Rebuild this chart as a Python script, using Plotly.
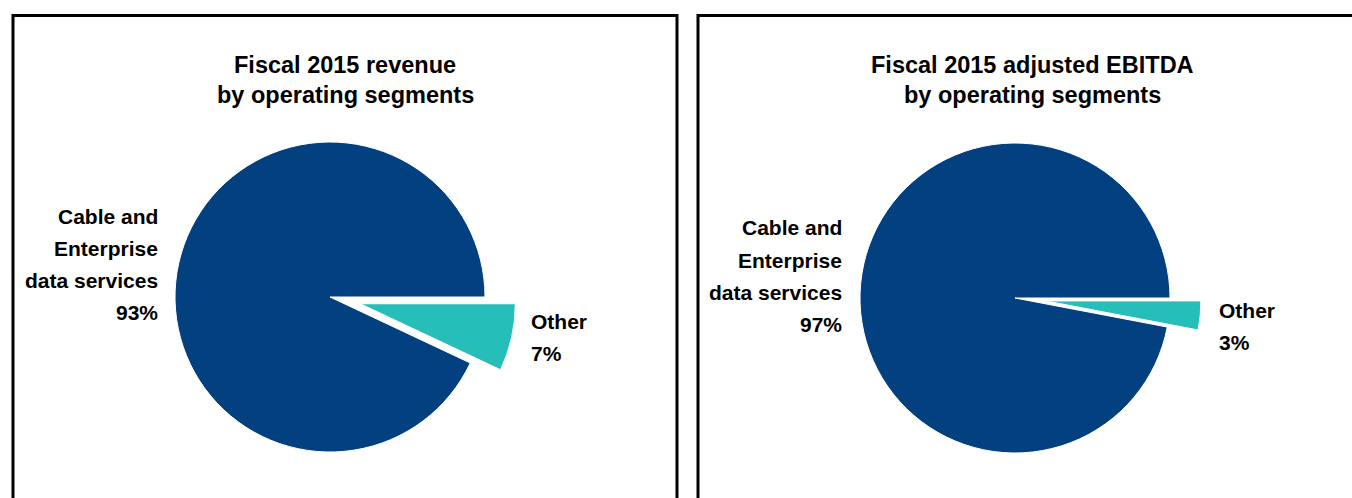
import plotly.graph_objects as go

W, H = 1352, 498

# ---- data ----
segments = ["Other", "Cable and Enterprise data services"]
revenue_share = [7, 93]
ebitda_share = [3, 97]
title_left = ["Fiscal 2015 revenue", "by operating segments"]
title_right = ["Fiscal 2015 adjusted EBITDA", "by operating segments"]
label_main_lines = ["Cable and", "Enterprise", "data services"]
label_other = "Other"

BLUE = "#034080"
TEAL = "#26BEB9"
FONT = "Liberation Sans, Arial, sans-serif"


def px(x):
    return x / W


def py(y):
    return 1 - y / H


fig = go.Figure()

PULL = 0.2
R = 155


def add_pie(values, cx, cy):
    half = R * (1 + PULL)
    fig.add_trace(go.Pie(
        labels=segments,
        values=values,
        sort=False,
        direction="clockwise",
        rotation=90,
        pull=[PULL, 0],
        marker=dict(colors=[TEAL, BLUE], line=dict(color="white", width=1)),
        textinfo="none",
        hoverinfo="label+percent",
        showlegend=False,
        domain=dict(x=[px(cx - half), px(cx + half)], y=[py(cy + half), py(cy - half)]),
    ))


add_pie(revenue_share, 330, 297)
add_pie(ebitda_share, 1015, 298)

ann = []


def text(x, y, s, size, xanchor="center"):
    ann.append(dict(x=px(x), y=py(y), xref="paper", yref="paper", text="<b>%s</b>" % s,
                    showarrow=False, xanchor=xanchor, yanchor="middle",
                    font=dict(family=FONT, size=size, color="black")))


# titles
for i, line in enumerate(title_left):
    text(345, 65 + 30 * i, line, 23.5)
for i, line in enumerate(title_right):
    text(1032, 65 + 30 * i, line, 23.5)

# left pie labels
main_left = label_main_lines + ["%d%%" % revenue_share[1]]
for i, line in enumerate(main_left):
    text(160, 216 + 32 * i, line, 21, "right")
other_left = [label_other, "%d%%" % revenue_share[0]]
for i, line in enumerate(other_left):
    text(529, 321 + 32 * i, line, 21, "left")

# right pie labels
main_right = label_main_lines + ["%d%%" % ebitda_share[1]]
for i, line in enumerate(main_right):
    text(844, 228 + 32 * i, line, 21, "right")
other_right = [label_other, "%d%%" % ebitda_share[0]]
for i, line in enumerate(other_right):
    text(1217, 310 + 32 * i, line, 21, "left")

# panel borders
shapes = []
for x0, x1 in [(13, 677), (698, 1400)]:
    shapes.append(dict(type="rect", xref="paper", yref="paper",
                       x0=px(x0), x1=px(x1), y0=py(560), y1=py(15.5),
                       line=dict(color="black", width=3), fillcolor="rgba(0,0,0,0)"))

fig.update_layout(
    width=W, height=H,
    margin=dict(l=0, r=0, t=0, b=0),
    paper_bgcolor="white", plot_bgcolor="white",
    annotations=ann, shapes=shapes,
    font=dict(family=FONT),
)

fig.write_html("out.html")
